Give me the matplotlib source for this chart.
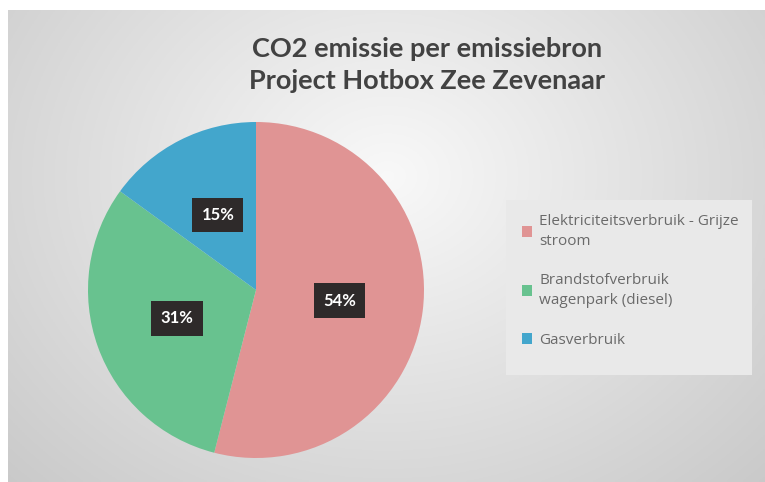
import numpy as np
import matplotlib
matplotlib.use("Agg")
import matplotlib.pyplot as plt
from matplotlib.patches import Rectangle

title = "CO2 emissie per emissiebron\nProject Hotbox Zee Zevenaar"
categories = ["Elektriciteitsverbruik - Grijze\nstroom",
              "Brandstofverbruik\nwagenpark (diesel)",
              "Gasverbruik"]
values = [54, 31, 15]
colors = ["#E09494", "#68C28F", "#43A6CC"]

W, H = 765, 482
fig = plt.figure(figsize=(W / 100, H / 100), dpi=100)
fig.patch.set_facecolor("white")

# background with radial gradient
bg = fig.add_axes([8 / W, 0, 1 - 8 / W, 1 - 10 / H])
yy, xx = np.mgrid[0:200, 0:320]
cx, cy = 160, 70
d = np.sqrt(((xx - cx) / 230.0) ** 2 + ((yy - cy) / 190.0) ** 2)
d = np.clip(d, 0, 1)
g = 0.975 - 0.19 * d
img = np.dstack([g, g, g])
bg.imshow(img, extent=[0, 1, 0, 1], aspect="auto", origin="upper")
bg.set_axis_off()

# pie
cxp, cyp, r = 256, 290, 168
ax = fig.add_axes([(cxp - r) / W, (H - cyp - r) / H, 2 * r / W, 2 * r / H])
wedges, texts = ax.pie(values, colors=colors, startangle=90, counterclock=False,
                       labels=[f"{v}%" for v in values], labeldistance=0.5,
                       wedgeprops=dict(linewidth=0))
for t in texts:
    t.set_ha("center")
    t.set_va("center")
    t.set_color("white")
    t.set_fontweight("bold")
    t.set_fontsize(12)
    t.set_family("Lato")
    t.set_bbox(dict(boxstyle="square,pad=0.55", facecolor="#2e2a2a", edgecolor="none"))
ax.set_xlim(-1, 1)
ax.set_ylim(-1, 1)
ax.set_aspect("equal")
ax.set_axis_off()

# title
fig.text(427 / W, 1 - 65 / H, title, ha="center", va="center", fontsize=19.5,
         family="Lato", fontweight="bold", color="#424242", linespacing=1.42)

# legend box
fig.patches.append(Rectangle((506 / W, 1 - 375 / H), 246 / W, 175 / H,
                             transform=fig.transFigure, facecolor="#e9e9e9",
                             edgecolor="none", zorder=1))
leg = fig.legend(wedges, categories, loc="upper left",
                 bbox_to_anchor=(508 / W, 1 - 200 / H), frameon=False,
                 handlelength=0.7, handleheight=0.7,
                 handletextpad=0.45, labelspacing=1.6,
                 prop=dict(family="Open Sans", size=11))
for t in leg.get_texts():
    t.set_color("#6a6a6a")
    t.set_linespacing(1.45)

fig.savefig("out.png", dpi=100)
